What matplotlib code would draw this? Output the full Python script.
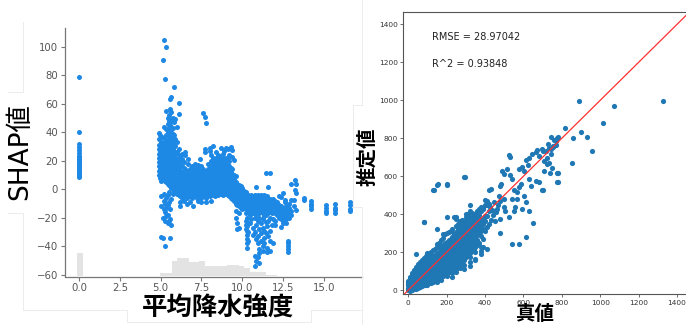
import matplotlib
matplotlib.use('Agg')
import matplotlib.pyplot as plt
from matplotlib.lines import Line2D

plt.rcParams['font.family'] = ['DejaVu Sans', 'Noto Sans CJK JP']

# ---------------- left panel: SHAP dependence (平均降水強度) ----------------
shap_col_x = [0.0, 4.88, 4.95, 5.05, 5.12, 5.2, 5.27, 5.35, 5.43, 5.5, 5.58, 5.65, 5.73, 5.8,
              5.9, 6.0, 6.1, 6.2, 6.3, 6.42, 6.5, 6.6, 6.7, 6.8, 6.9, 7.0, 7.1, 7.2, 7.3, 7.4,
              7.5, 7.6, 7.7, 7.75, 7.8, 7.9, 8.0, 8.1, 8.2, 8.3, 8.4, 8.5, 8.6, 8.7, 8.8, 8.9,
              9.0, 9.1, 9.2, 9.3, 9.4, 9.5, 9.6, 9.7, 9.8, 9.9, 10.0, 10.1, 10.2, 10.27, 10.35,
              10.45, 10.55, 10.65, 10.75, 10.85, 10.95, 11.05, 11.15, 11.25, 11.35, 11.43, 11.5,
              11.6, 11.72, 11.8, 11.9, 12.0, 12.1, 12.25, 12.4, 12.5, 12.6, 12.7, 12.78, 12.85,
              13.0, 13.15, 13.2, 13.3, 13.8, 14.2, 15.15, 15.7, 16.6]
shap_col_y = [
    [8.5, 9.5, 10.5, 11.5, 12.5, 13.5, 14.5, 15.5, 16.5, 17.5, 18.5, 19.5, 20.5, 21.5, 22.5, 23.5, 25.5, 27.5, 29.5, 31.5, 40, 79],
    [10, 13, 16, 19, 22, 25, 28, 31, 35, 39.5],
    [8, 11, 14, 17, 20, 23, 26, 30, 38],
    [6, 9, 12, 15, 18, 21, 24, 27, 33, 36, -5, -12, -33.5],
    [7, 10, 13, 16, 19, 22, 25, 28, 31, 90.5, -20, -34],
    [8, 11, 14, 17, 20, 23, 26, 29, 32, 37, 44, -3, -8, -14, 105],
    [6, 9, 12, 15, 18, 21, 24, 27, 30, 34, 77.5, -10, -16, -22, -40],
    [5, 8, 11, 14, 17, 20, 23, 26, 29, 33, 38, 42, 55, 100, -6, -13, -19],
    [4, 7, 10, 13, 16, 19, 22, 25, 28, 31, 35, 40, 46, 50, -4, -11, -18, -24],
    [3, 6, 9, 12, 15, 18, 21, 24, 27, 30, 34, 38, 43, 48, 52, -2, -9, -22],
    [2, 5, 8, 11, 14, 17, 20, 23, 26, 29, 33, 37, 41, 45, 49, 56, 63.5, -14, -21, -34],
    [1, 4, 7, 10, 13, 16, 19, 22, 25, 28, 32, 36, 40, 44, 48, 54.5, 65, -7, -25],
    [0, 3, 6, 9, 12, 15, 18, 21, 24, 28, 31, 35, 39, 43, 50, -3],
    [-1, 2, 5, 8, 11, 14, 17, 20, 23, 27, 33, 38, 47, 71.5],
    [-2, 1, 4, 7, 10, 13, 16, 19, 22, 25, 30, 35, 49],
    [-3, 0, 3, 6, 9, 12, 15, 18, 21, 26, 33, 44],
    [-4, -1, 2, 5, 8, 11, 14, 17, 20, 24, 28, 53, 60.5],
    [-5, -2, 1, 4, 7, 10, 13, 18, 23, -9, -12],
    [-6, -3, 0, 3, 6, 9, 12, 16, 21, 25],
    [-4, -1, 2, 5, 8, 11, 15, -8, 19],
    [-5, -2, 1, 4, 7, 10, 14, 24, 26],
    [-6, -3, 0, 3, 6, 9, 13, -10],
    [-4, -1, 2, 5, 8, 11, 18, 21],
    [-5, -2, 1, 4, 7, 10, 14, -9],
    [-6, -3, 0, 3, 6, 9, 12, 16],
    [-4, -1, 2, 5, 8, 11, 15, -12],
    [-5, -2, 1, 4, 7, 10, 13, 18],
    [-6, -3, 0, 3, 6, 9, 12, 15],
    [-4, -1, 2, 5, 8, 11, 14, 17, -8],
    [-5, -2, 1, 4, 7, 10, 13, 21],
    [-6, -3, 0, 3, 6, 9, 12, 16, -9],
    [-4, -1, 2, 5, 8, 11, 53.5, 14],
    [-5, -2, 1, 4, 7, 10, 13, 50.5, 28, 26],
    [46.5],
    [-6, -3, 0, 3, 6, 9, 12, -9],
    [-4, -1, 2, 5, 8, 11, 14, 18],
    [-5, -2, 1, 4, 7, 10, 13, 16, 27, 29],
    [-3, 0, 3, 6, 9, 12, 15, 20, 24, -8],
    [-4, -1, 2, 5, 8, 11, 14, 18, 22, 30],
    [-5, -2, 1, 4, 7, 10, 13, 16, 19],
    [-3, 0, 3, 6, 9, 12, 15, 18, 22, 26],
    [-4, -1, 2, 5, 8, 11, 14, 17, 20, 24],
    [-2, 1, 4, 7, 10, 13, 16, 19, 23],
    [-3, 0, 3, 6, 9, 12, 15, 18, 21, 29],
    [-4, -1, 2, 5, 8, 11, 14, 17, 22, 25],
    [-2, 1, 4, 7, 10, 13, 16, 20, 27],
    [-3, 0, 3, 6, 9, 12, 15, 18, 22, 29],
    [-4, -1, 2, 5, 8, 11, 14, 17, 21, 28.5],
    [-5, -2, 1, 4, 7, 10, 13, 16, 20, 24],
    [-6, -3, 0, 3, 6, 9, 12, 15, 29.5],
    [-7, -4, -1, 2, 5, 8, 11, 14, 22.5, 27.5],
    [-8, -5, -2, 1, 4, 7, 10, 20.5],
    [-10, -7, -4, -1, 2, 5, 9, -15, -20],
    [-11, -8, -5, -2, 1, 4, -24, -28],
    [-12, -9, -6, -3, 0, 3, -17, -27],
    [-13, -10, -7, -4, -1, 2],
    [-14, -11, -8, -5, -2, 1],
    [-13, -10, -7, -4, -1],
    [-14, -11, -8, -5, -2, -17, -22, -25, -28],
    [-20, -23, -26, -29, -32, -35, -38, -41],
    [-13, -10, -7, -4, -16, -30, -36],
    [-14, -11, -8, -5, -18, -24],
    [-13, -10, -7, -4, -16, -21],
    [-14, -11, -8, -5, -17, -27, -32],
    [-13, -10, -7, -4, -16, -20, -30, -46.5, -53.5],
    [-14, -11, -8, -5, 1.6, -18, -25, -35, -50],
    [-13, -10, -7, -4, -16, -22, -33, -38, -47.5],
    [-14, -11, -8, -5, -17, -20, -28, -42, -45, -52],
    [-13, -10, -7, -4, -16, -24, -31, -36],
    [-14, -11, -8, -5, -17, -21, -27, -40, -43],
    [-13, -10, -7, -4, -16, -19, -29, -34, -38],
    [11.4, -14, -11, -8, -18, -23, -31],
    [-13, -10, -7, -5, -16, -26, -41, -44],
    [-14, -11, -8, 1.6, -17, -22, -33],
    [11.4, -13, -10, -7, -16, -20, -29, -36, -43],
    [-14, -11, -8, -17, -25],
    [-13, -10, -7, -16, -21, -38],
    [-14, -11, -8, -17, -22, -25],
    [-12, -9, -15, -18],
    [-14, -17, -20, -11, -5],
    [-15, -18, -21, -12, -5.4, -26.5],
    [-13, -16, -19, -22, -2.6, -24],
    [-14, -17, -20, -9, -7.3],
    [-12, -15, -18, -21, -24],
    [-16, -19, -36, -38, -40, -42, -44],
    [-13, -17, -20, -10],
    [3.5, -7.8, -15, -18],
    [-7.3, -12],
    [6.8, -0.7],
    [4.0, -2.6, -14.3],
    [-5.9, -7.8],
    [-8.5, -10.1, -12, -13.6],
    [-11, -13, -15, -17],
    [-10.6, -12.9, -14.8, -17],
    [-9, -11.3, -13.6, -15],
]

# background histogram of the feature (bar left edge, height above the axis bottom)
hist_left = [-0.12, 4.65, 4.99, 5.33, 5.67, 6.01, 6.35, 6.69, 7.03, 7.37, 7.71, 8.05, 8.39,
             8.73, 9.07, 9.41, 9.75, 10.09, 10.43, 10.77, 11.11, 11.45, 11.79, 12.13, 12.47,
             12.81, 13.15, 14.2, 15.5, 16.5]
hist_height = [16.4, 0.7, 2.6, 2.6, 11.2, 12.9, 12.9, 10.0, 10.0, 11.2, 7.2, 7.2, 7.7,
               7.7, 8.4, 8.4, 7.7, 5.8, 3.5, 3.5, 3.5, 1.2, 1.2, 0.5, 0.5,
               0.7, 0.3, 0.3, 0.3, 0.3]
hist_width = 0.36

shap_xticks = [0.0, 2.5, 5.0, 7.5, 10.0, 12.5, 15.0]
shap_yticks = [-60, -40, -20, 0, 20, 40, 60, 80, 100]

# ---------------- right panel: predicted vs true ----------------
band_true = [0, 10, 20, 30, 40, 50, 60, 70, 80, 90, 100, 110, 120, 130, 140, 150, 160, 170,
             180, 190, 200, 210, 220, 230, 240, 250, 260, 270, 280, 290, 300, 310, 320, 330,
             340, 350, 360, 370, 380, 390, 400, 410, 420]
band_pred = [
    [0, 12, 25, 38, 50],
    [-5, 8, 20, 33, 46, 58, 70],
    [0, 13, 26, 39, 52, 65, 78, 90],
    [5, 18, 31, 44, 57, 70, 83, 96, 108],
    [8, 22, 36, 50, 64, 78, 92, 106, 120, 190],
    [12, 26, 40, 54, 68, 82, 96, 110, 123, 136],
    [15, 30, 45, 60, 75, 90, 104, 118, 132, 146],
    [20, 35, 50, 65, 80, 95, 110, 125, 140, 160],
    [25, 40, 55, 70, 85, 100, 115, 130, 148, 168, 357],
    [28, 44, 60, 76, 92, 108, 124, 140, 158, 178],
    [26, 42, 58, 74, 90, 106, 122, 138, 156, 176, 198],
    [36, 52, 68, 84, 100, 116, 132, 150, 170, 196],
    [40, 56, 72, 88, 104, 120, 137, 155, 175, 203],
    [45, 61, 77, 93, 109, 125, 142, 160, 180, 210, 525],
    [50, 66, 82, 98, 114, 130, 147, 165, 186, 218],
    [45, 60, 76, 92, 108, 124, 140, 157, 175, 196, 225, 243, 323, 556],
    [62, 78, 94, 110, 126, 143, 160, 178, 198, 222, 250],
    [55, 70, 86, 102, 118, 134, 151, 168, 187, 207, 232, 262],
    [74, 90, 106, 122, 139, 156, 173, 192, 212, 238, 275, 295],
    [80, 96, 112, 128, 145, 162, 180, 200, 220, 246, 295],
    [75, 90, 106, 122, 138, 155, 172, 190, 209, 230, 255, 300, 384, 556],
    [95, 111, 127, 144, 161, 178, 196, 216, 238, 262, 305],
    [100, 117, 134, 151, 168, 186, 205, 225, 247, 272, 310],
    [70, 90, 108, 125, 142, 159, 177, 195, 214, 234, 256, 282, 320],
    [115, 132, 149, 167, 185, 204, 224, 245, 268, 295, 384],
    [95, 112, 128, 144, 161, 178, 197, 216, 236, 257, 280, 305, 340, 375, 384],
    [135, 153, 171, 190, 209, 229, 250, 272, 296, 322, 350],
    [115, 130, 146, 163, 182, 201, 221, 242, 264, 287, 312, 338, 362],
    [152, 171, 190, 210, 231, 253, 276, 300, 325, 350, 372],
    [110, 135, 160, 180, 200, 221, 243, 266, 290, 315, 340, 365, 595],
    [172, 192, 213, 235, 258, 282, 307, 332, 358, 385, 401],
    [185, 206, 228, 251, 275, 300, 325, 350, 375, 400],
    [125, 150, 172, 195, 217, 240, 264, 289, 314, 339, 364, 390, 287, 418, 446],
    [205, 228, 252, 277, 302, 327, 352, 378, 404, 278],
    [215, 238, 262, 287, 312, 337, 362, 388],
    [160, 200, 225, 249, 274, 299, 324, 349, 374, 400, 251, 164],
    [238, 263, 288, 313, 338, 363, 389, 415],
    [248, 298, 323, 348, 373, 398, 425],
    [190, 225, 286, 312, 338, 364, 416, 440, 208],
    [272, 324, 350, 376, 428, 225],
    [312, 366, 393, 447],
    [217, 330, 390, 450],
    [350, 415],
]
sparse_true = [889, 1071, 1325, 1015, 819, 901, 933, 857, 957, 852, 779, 779, 703, 649, 614,
               542, 577, 294, 133, 156, 200, 81, 523, 530, 476, 388, 410, 419, 431, 427, 445,
               462, 453, 480, 480, 497, 480, 483, 471, 497, 488, 515, 532, 541, 506, 523, 549,
               558, 541, 567, 576, 588, 567, 549, 593, 628, 602, 611, 576, 593, 602, 623, 628,
               637, 611, 628, 646, 663, 672, 681, 703, 663, 681, 698, 707, 725, 742, 733, 742,
               756, 768, 725, 750, 707, 739, 733, 716, 777, 768, 777, 777, 744, 761, 779, 726,
               752, 695, 402, 420, 435, 455, 470, 500, 440, 445, 430]
sparse_pred = [996, 972, 996, 880, 856, 834, 806, 801, 731, 669, 618, 569, 525, 354, 278,
               243, 243, 595, 525, 560, 560, 357, 713, 700, 299, 433, 472, 525, 534, 440, 419,
               428, 366, 375, 472, 481, 551, 560, 498, 612, 630, 639, 604, 586, 419, 384, 419,
               437, 481, 481, 543, 560, 516, 525, 428, 419, 498, 463, 639, 648, 630, 657, 586,
               551, 683, 697, 718, 727, 736, 709, 732, 577, 569, 525, 679, 697, 715, 670, 742,
               760, 765, 662, 644, 627, 618, 751, 733, 804, 786, 616, 569, 806, 792, 806, 771,
               754, 745, 475, 455, 420, 410, 450, 440, 395, 462, 370]
axis_lims = (-26, 1468)
pred_ticks = [0, 200, 400, 600, 800, 1000, 1200, 1400]
rmse_text = "RMSE = 28.97042"
r2_text = "R^2 = 0.93848"

# ---------------- figure ----------------
W, H = 686, 325
fig = plt.figure(figsize=(W / 100, H / 100), dpi=100)
fig.patch.set_facecolor('white')


def fx(px):
    return px / W


def fy(py):
    return 1 - py / H


# faint frame lines of the screenshot
frame_col = '#ececec'
frame_lines = [
    ([22.7, 22.7], [22, 92]), ([8, 22.7], [92, 92]), ([8, 22.7], [213, 213]),
    ([22.7, 22.7], [213, 309.5]), ([22.7, 127], [309.5, 309.5]),
    ([127, 127], [309.5, 321.7]), ([127, 311], [321.7, 321.7]), ([311, 311], [309.5, 321.7]),
    ([311, 361.7], [309.5, 309.5]),
    ([361.7, 361.7], [0, 105]), ([353.3, 361.7], [105, 105]), ([353.3, 353.3], [105, 207]),
    ([353.3, 361.7], [207, 207]), ([361.7, 361.7], [207, 325]),
]
for xs, ys in frame_lines:
    fig.add_artist(Line2D([fx(v) for v in xs], [fy(v) for v in ys], transform=fig.transFigure,
                          color=frame_col, lw=0.7))

# left axes
ax1 = fig.add_axes([fx(65), fy(276.5), (361.5 - 65) / W, (276.5 - 28.3) / H])
ylo = -61.2
ax1.set_xlim(-0.857, 17.30)
ax1.set_ylim(ylo, 112.9)
ax1.bar(hist_left, hist_height, width=hist_width, bottom=ylo, align='edge',
        color='#e3e3e3', edgecolor='none', zorder=0)
sx, sy = [], []
for xv, ys in zip(shap_col_x, shap_col_y):
    for yv in ys:
        sx.append(xv)
        sy.append(yv)
ax1.scatter(sx, sy, s=13, c='#1E88E5', linewidths=0, zorder=2)
ax1.set_xticks(shap_xticks)
ax1.set_xticklabels([f"{v:.1f}" for v in shap_xticks])
ax1.set_yticks(shap_yticks)
for s in ['top', 'right']:
    ax1.spines[s].set_visible(False)
for s in ['left', 'bottom']:
    ax1.spines[s].set_color('#777777')
    ax1.spines[s].set_linewidth(0.9)
ax1.tick_params(colors='#777777', labelcolor='#555555', labelsize=7.3, length=3, width=0.8, pad=2)
ax1.patch.set_alpha(0)

fig.text(fx(20.5), fy(152), "SHAP値", rotation=90, ha='center', va='center',
         fontsize=19, color='black')
fig.text(fx(218), fy(308), "平均降水強度", ha='center', va='center', fontsize=18.3,
         family=['Noto Sans CJK JP'], fontweight='bold', color='black')

# right axes
ax2 = fig.add_axes([fx(403.3), fy(294.3), (690 - 403.3) / W, (294.3 - 11.7) / H])
ax2.set_xlim(*axis_lims)
ax2.set_ylim(-22, 1467)
bx, by = [], []
for tv, ps in zip(band_true, band_pred):
    for pv in ps:
        bx.append(tv)
        by.append(pv)
ax2.scatter(bx + sparse_true, by + sparse_pred, s=14, c='#1f77b4', linewidths=0, zorder=2)
ax2.plot([axis_lims[0], 1480], [axis_lims[0], 1480], color='#ff3030', lw=0.9, zorder=3)
ax2.set_xticks(pred_ticks)
ax2.set_yticks(pred_ticks)
for s in ax2.spines.values():
    s.set_color('#555555')
    s.set_linewidth(0.8)
ax2.tick_params(labelsize=5.3, labelcolor='#333333', colors='#555555', length=2.5, width=0.6, pad=1.5)
ax2.text(123, 1334, rmse_text, fontsize=7, va='center', ha='left', color='#222222')
ax2.text(123, 1189, r2_text, fontsize=7, va='center', ha='left', color='#222222')

fig.text(fx(368), fy(157), "推定値", rotation=90, ha='center', va='center', fontsize=14,
         family=['Noto Sans CJK JP'], fontweight='bold', color='black')
fig.text(fx(534.7), fy(314), "真値", ha='center', va='center', fontsize=14,
         family=['Noto Sans CJK JP'], fontweight='bold', color='black')

fig.savefig('out.png', dpi=100, facecolor='white')
